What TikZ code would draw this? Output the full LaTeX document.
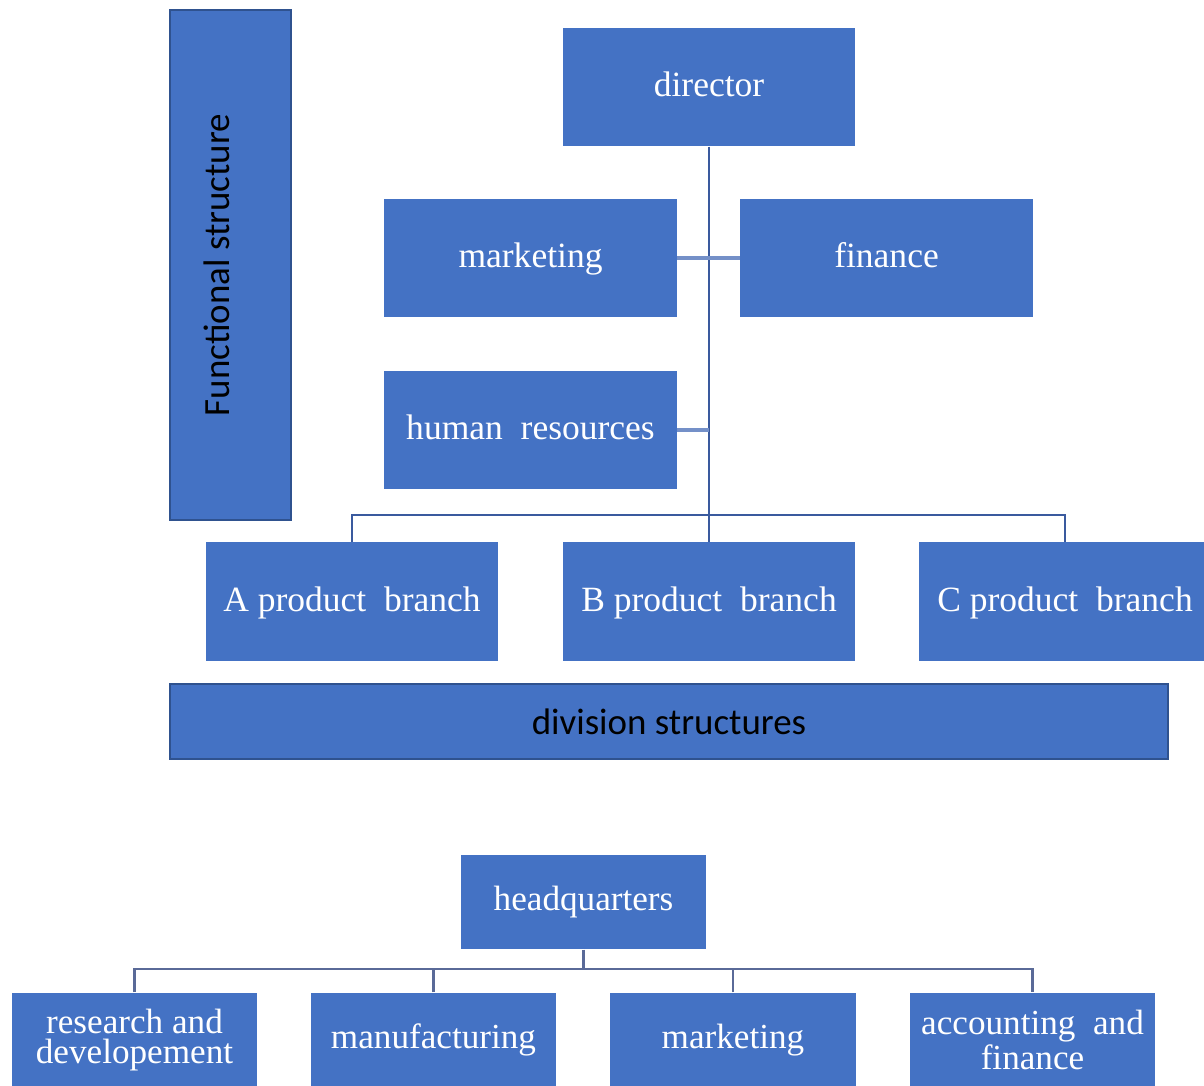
\documentclass[tikz,border=0pt]{standalone}
\usepackage{fontspec}
\setmainfont{Liberation Serif}
\newfontfamily\calibri{Carlito}
\definecolor{BoxBlue}{HTML}{4472C4}
\definecolor{EdgeBlue}{HTML}{2F528F}
\definecolor{LinkBlue}{HTML}{3A5A9E}
\definecolor{StubBlue}{HTML}{7490C8}
\definecolor{LinkGray}{HTML}{5A6A98}

\begin{document}
\begin{tikzpicture}[x=0.01cm, y=-0.01cm,
  box/.style={fill=BoxBlue, text=white, inner sep=0pt},
  unit/.style={box, minimum width=2.92cm, minimum height=1.18cm, text height=0.8em, text depth=0.24em, font=\fontsize{10.1}{12}\selectfont},
  hqunit/.style={box, minimum width=2.45cm, minimum height=0.94cm, align=center, font=\fontsize{10}{8.6}\selectfont},
  banner/.style={fill=BoxBlue, draw=EdgeBlue, line width=0.6pt, text=black, inner sep=0pt, font=\calibri\fontsize{10.5}{12}\selectfont},
  link/.style={LinkBlue, line width=0.7pt},
  stub/.style={StubBlue, line width=0.9pt},
  hqlink/.style={LinkGray, line width=0.6pt}]
\useasboundingbox (0,0) rectangle (1204,1085);

% Functional structure
\node[banner, minimum width=1.21cm, minimum height=5.1cm] (functional) at (230.5,265) {\rotatebox{90}{Functional structure\rule[-0.28cm]{0pt}{0pt}}};
\node[unit] (director) at (709,87) {director};
\node[unit] (marketing) at (530.5,258) {marketing};
\node[unit] (finance) at (886.5,258) {finance};
\node[unit] (hr) at (530.5,430) {human\ \ resources};

% Product branches
\node[unit] (Abranch) at (352,601.5) {A product\ \ branch};
\node[unit] (Bbranch) at (709,601.5) {B product\ \ branch};
\node[unit] (Cbranch) at (1065,601.5) {C product\ \ branch};
\node[banner, minimum width=9.98cm, minimum height=0.75cm] (division) at (669,721.5) {division structures};

% Links of the top chart
\coordinate (branchbar) at (709,515);
\draw[link] (director.south) -- (Bbranch.north);
\draw[stub] (marketing.east) -- (finance.west);
\draw[stub] (hr.east) -- (hr.east -| director.south);
\draw[link] (Abranch.north) |- (branchbar) -| (Cbranch.north);

% Headquarters chart
\node[hqunit] (hq) at (583.5,902) {headquarters};
\node[hqunit] (research) at (134.5,1040) {research and\\developement};
\node[hqunit] (manufacturing) at (433.5,1040) {manufacturing};
\node[hqunit] (hqmarketing) at (733,1040) {marketing};
\node[hqunit] (accounting) at (1032.5,1040) {accounting\ \ and\\finance};

\coordinate (hqbar) at (583.5,969);
\draw[hqlink] (hq.south) -- (hqbar);
\draw[hqlink] (research.north) |- (hqbar) -| (accounting.north);
\foreach \d in {manufacturing, hqmarketing}
  \draw[hqlink] (\d.north) -- (\d.north |- hqbar);

\end{tikzpicture}
\end{document}
